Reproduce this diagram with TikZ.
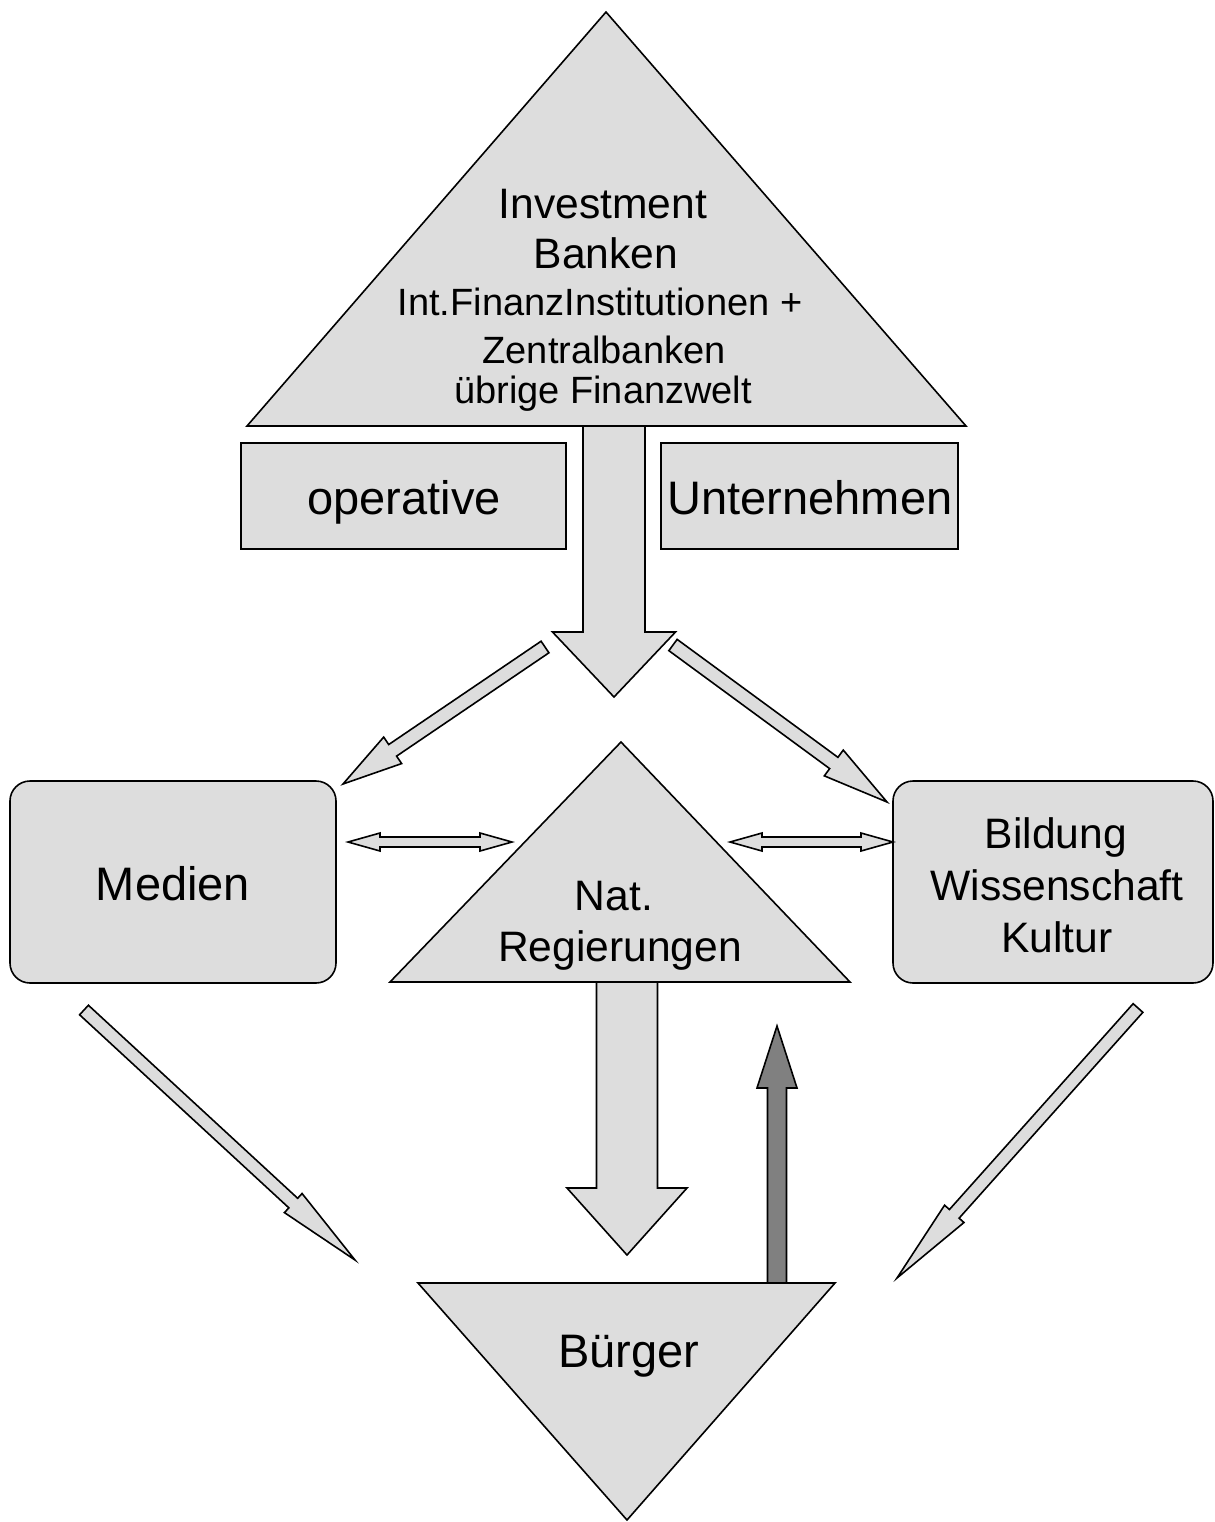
\documentclass[tikz,border=0pt]{standalone}
\usepackage{fontspec}
\setmainfont{Liberation Sans}
\usetikzlibrary{calc}
\definecolor{lg}{HTML}{DDDDDD}
\definecolor{dg}{HTML}{808080}
% #1 style, #2 tail, #3 tip, #4 shaft half width, #5 head half width, #6 head length
\newcommand\blockarrow[6]{%
  \coordinate (ba-h) at ($(#3)!#6!(#2)$);
  \draw[#1] ($(#2)!#4!90:(#3)$) -- ($(ba-h)!#4!90:(#3)$) -- ($(ba-h)!#5!90:(#3)$) -- (#3)
    -- ($(ba-h)!#5!-90:(#3)$) -- ($(ba-h)!#4!-90:(#3)$) -- ($(#2)!#4!-90:(#3)$) -- cycle;}
% #1 style, #2 end A, #3 end B, #4 shaft half width, #5 head half width, #6 head length
\newcommand\dblarrow[6]{%
  \coordinate (da-a) at ($(#2)!#6!(#3)$);
  \coordinate (da-b) at ($(#3)!#6!(#2)$);
  \draw[#1] (#2) -- ($(da-a)!#5!90:(#3)$) -- ($(da-a)!#4!90:(#3)$) -- ($(da-b)!#4!90:(#3)$)
    -- ($(da-b)!#5!90:(#3)$) -- (#3) -- ($(da-b)!#5!-90:(#3)$) -- ($(da-b)!#4!-90:(#3)$)
    -- ($(da-a)!#4!-90:(#3)$) -- ($(da-a)!#5!-90:(#3)$) -- cycle;}
\tikzset{
  grayshape/.style={draw=black, fill=lg, line width=0.8pt, line join=miter},
  darkshape/.style={draw=black, fill=dg, line width=0.8pt},
  txt/.style={inner sep=0pt, anchor=base},
  big/.style={font=\fontsize{23.5}{28}\selectfont},
  mid/.style={font=\fontsize{21.3}{26}\selectfont},
  sml/.style={font=\fontsize{19}{23}\selectfont},
}
\begin{document}
\begin{tikzpicture}[x=0.5pt, y=-0.5pt]
\useasboundingbox (0,0) rectangle (1215,1522);
% top triangle
\draw[grayshape] (606,12) -- (966,426) -- (247,426) -- cycle;
\node[txt, mid] (t1) at (603,218) {Investment};
\node[txt, mid] (t2) at (606,268) {Banken};
\node[txt, sml] (t3) at (600,315) {Int.FinanzInstitutionen +};
\node[txt, sml] (t4) at (604,363) {Zentralbanken};
\node[txt, sml] (t5) at (603,403) {übrige Finanzwelt};
% boxes
\draw[grayshape] (241,443) rectangle (566,549);
\node[txt, big] (op) at (404,514) {operative};
\draw[grayshape] (661,443) rectangle (958,549);
\node[txt, big] (un) at (810,514) {Unternehmen};
% big down arrow from top
\coordinate (a1t) at (614,426);
\coordinate (a1h) at (614,697);
\blockarrow{grayshape}{a1t}{a1h}{15.5pt}{30.75pt}{32.5pt}
% middle shapes
\draw[grayshape, rounded corners=10pt] (10,781) rectangle (336,983);
\node[txt, big] (med) at (173,900) {Medien};
\draw[grayshape, rounded corners=10pt] (893,781) rectangle (1213,983);
\node[txt, mid] (b1) at (1056,848) {Bildung};
\node[txt, mid] (b2) at (1057,900) {Wissenschaft};
\node[txt, mid] (b3) at (1057,952) {Kultur};
\draw[grayshape] (621,742) -- (850,982) -- (390,982) -- cycle;
\node[txt, mid] (n1) at (614,910) {Nat.};
\node[txt, mid] (n2) at (620,961) {Regierungen};
% diagonal arrows upper
\coordinate (d1t) at (545,647);
\coordinate (d1h) at (343,784);
\blockarrow{grayshape}{d1t}{d1h}{3.5pt}{8pt}{30pt}
\coordinate (d2t) at (673,645);
\coordinate (d2h) at (887,802);
\blockarrow{grayshape}{d2t}{d2h}{3.5pt}{8pt}{33pt}
% double arrows
\coordinate (h1a) at (348,842);
\coordinate (h1b) at (512,842);
\dblarrow{grayshape}{h1a}{h1b}{2.5pt}{4.5pt}{16pt}
\coordinate (h2a) at (730,842);
\coordinate (h2b) at (893,842);
\dblarrow{grayshape}{h2a}{h2b}{2.5pt}{4.5pt}{16pt}
% lower arrows
\coordinate (a2t) at (627,982);
\coordinate (a2h) at (627,1255);
\blockarrow{grayshape}{a2t}{a2h}{15.25pt}{30pt}{33.5pt}
\coordinate (a3t) at (777,1283);
\coordinate (a3h) at (777,1026);
\blockarrow{darkshape}{a3t}{a3h}{4.75pt}{10pt}{31pt}
\coordinate (d3t) at (84,1010);
\coordinate (d3h) at (355,1260);
\blockarrow{grayshape}{d3t}{d3h}{3.25pt}{6.5pt}{42pt}
\coordinate (d4t) at (1138,1008);
\coordinate (d4h) at (897,1278);
\blockarrow{grayshape}{d4t}{d4h}{3.25pt}{6.5pt}{43pt}
% bottom triangle
\draw[grayshape] (418,1283) -- (835,1283) -- (627,1520) -- cycle;
\node[txt, big] (bu) at (629,1367) {Bürger};
\end{tikzpicture}
\end{document}
